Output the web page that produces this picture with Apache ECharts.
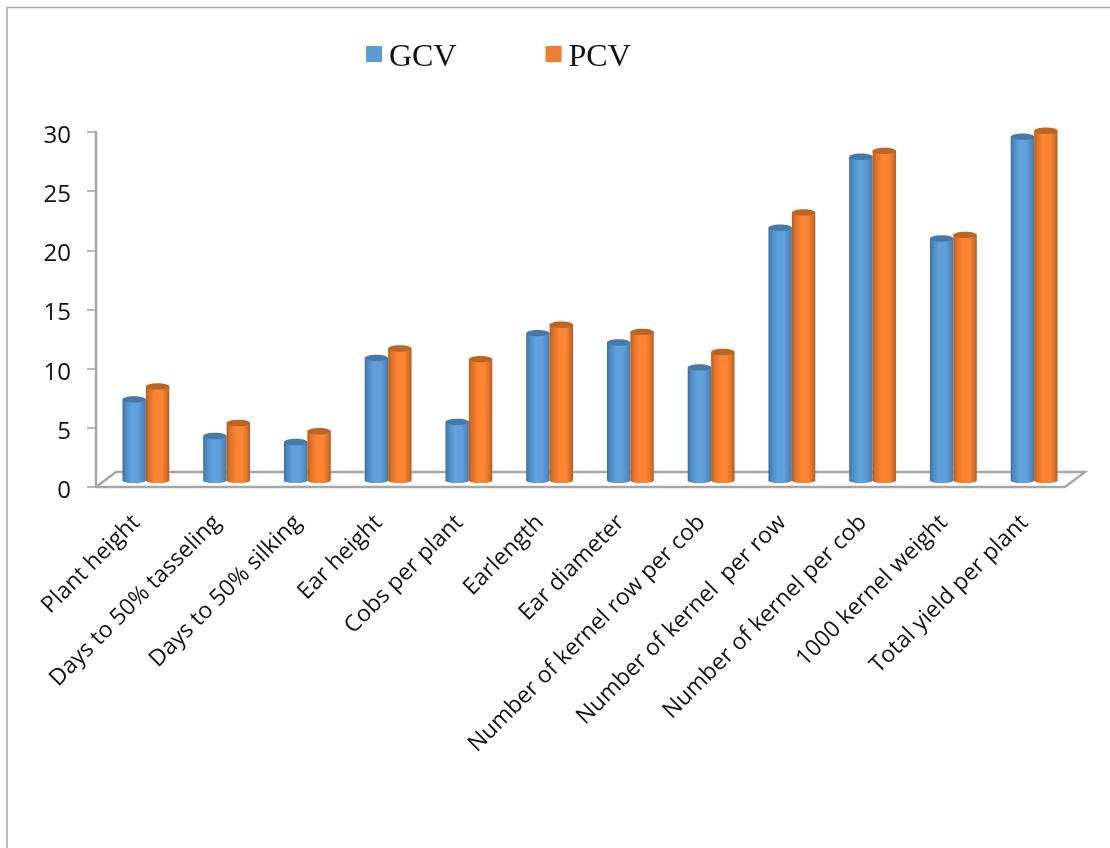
<!DOCTYPE html>
<html>
<head>
<meta charset="utf-8">
<style>html,body{margin:0;padding:0;background:#fff}#chart{width:1110px;height:848px}</style>
<script src="https://cdn.jsdelivr.net/npm/echarts@6/dist/echarts.min.js"></script>
</head>
<body>
<div id="chart"></div>
<script>
const traits = ['Plant height','Days to 50% tasseling','Days to 50% silking','Ear height','Cobs per plant','Earlength','Ear diameter','Number of kernel row per cob','Number of kernel  per row','Number of kernel per cob','1000 kernel weight','Total yield per plant'];
const gcv = [6.9,3.8,3.3,10.4,5.0,12.5,11.7,9.6,21.4,27.4,20.5,29.1];
const pcv = [8.0,4.9,4.2,11.2,10.3,13.2,12.6,10.9,22.7,27.9,20.8,29.6];

const AXIS_GREY = '#a6a6a6';
// pseudo-3D offsets: columns stand in the middle of the floor's depth
const SHIFT_X = 9.5, SHIFT_Y = -6, FLOOR_DX = 20, FLOOR_DY = -15;

function shade(stops) {
  return { type: 'linear', x: 0, y: 0, x2: 1, y2: 0,
    colorStops: stops.map(s => ({ offset: s[0], color: s[1] })) };
}
const blueBody = shade([[0,'#3f6f9c'],[0.14,'#4f8ac1'],[0.4,'#5fa2df'],[0.68,'#5f9fdb'],[0.9,'#5288bc'],[1,'#4a7aa6']]);
const orangeBody = shade([[0,'#b0601f'],[0.14,'#dd7228'],[0.4,'#fd8432'],[0.68,'#fd8432'],[0.88,'#d9702a'],[1,'#ae6025']]);

function cylinder(side, body, cap) {
  return function (params, api) {
    const cat = api.value(0), val = api.value(1);
    const bandW = api.size([1, 0])[0];
    const w = bandW * 0.29, rx = w / 2, ry = 3.2;
    const top = api.coord([cat, val]);
    const base = api.coord([cat, 0]);
    const cx = top[0] + SHIFT_X + side * rx;
    const yt = top[1] + SHIFT_Y, yb = base[1] + SHIFT_Y;
    return { type: 'group', children: [
      { type: 'ellipse', shape: { cx: cx, cy: yb - 0.5, rx: rx, ry: 2.6 }, style: { fill: body } },
      { type: 'rect', shape: { x: cx - rx, y: yt, width: w, height: yb - yt - 0.5 }, style: { fill: body } },
      { type: 'ellipse', shape: { cx: cx, cy: yt, rx: rx, ry: ry }, style: { fill: cap } }
    ] };
  };
}

// floor of the plot: back edge, right edge and the left corner
function renderFloor(params, api) {
  const r = params.coordSys;
  const x0 = r.x, x1 = r.x + r.width, y = r.y + r.height;
  const style = { stroke: AXIS_GREY, lineWidth: 2.4, fill: 'none' };
  return { type: 'polyline', silent: true, shape: { points: [
    [x0, y], [x0 + FLOOR_DX, y + FLOOR_DY], [x1 + FLOOR_DX, y + FLOOR_DY], [x1, y]
  ] }, style: style };
}

const chart = echarts.init(document.getElementById('chart'), null, { renderer: 'canvas' });
chart.setOption({
  animation: false,
  backgroundColor: '#ffffff',
  graphic: [
    { type: 'polyline', silent: true, z: 0,
      shape: { points: [[7, 848], [7, 7.5], [1110, 7.5]] },
      style: { stroke: '#aaaaaa', lineWidth: 1.6, fill: 'none' } }
  ],
  legend: {
    left: 361, top: 37, itemWidth: 16, itemHeight: 16, itemGap: 89, icon: 'rect',
    data: ['GCV', 'PCV'],
    formatter: '{n|{name}}',
    textStyle: { padding: [0, 0, 0, 2], rich: { n: { fontFamily: '"Liberation Serif"', fontSize: 32, color: '#111', lineHeight: 40, verticalAlign: 'bottom' } } }
  },
  grid: { left: 96, right: 45, top: 132, bottom: 361, containLabel: false },
  xAxis: {
    type: 'category', data: traits, boundaryGap: true,
    axisLine: { lineStyle: { color: AXIS_GREY, width: 2.4 } },
    axisTick: { alignWithLabel: false, length: 7, lineStyle: { color: AXIS_GREY, width: 1.6 } },
    axisLabel: { interval: 0, rotate: 45, margin: 32, fontFamily: '"Open Sans"', fontSize: 23, color: '#111' }
  },
  yAxis: {
    type: 'value', min: 0, max: 30, interval: 5, splitLine: { show: false },
    axisLine: { show: true, lineStyle: { color: AXIS_GREY, width: 2.4 } },
    axisTick: { show: true, length: 9, lineStyle: { color: AXIS_GREY, width: 1.6 } },
    axisLabel: { margin: 25, formatter: '{v|{value}}',
      rich: { v: { fontFamily: '"Open Sans"', fontSize: 24, color: '#111', lineHeight: 32, verticalAlign: 'bottom' } } }
  },
  series: [
    { type: 'custom', name: 'floor', renderItem: renderFloor, data: [[0, 0]], silent: true, z: 1,
      encode: { x: 0, y: 1 } },
    { type: 'custom', name: 'GCV', z: 2, renderItem: cylinder(-1, blueBody, '#4679a6'),
      itemStyle: { color: '#5b9bd5' }, encode: { x: 0, y: 1 },
      data: gcv.map((v, i) => [i, v]) },
    { type: 'custom', name: 'PCV', z: 3, renderItem: cylinder(1, orangeBody, '#bb6525'),
      itemStyle: { color: '#ed7d31' }, encode: { x: 0, y: 1 },
      data: pcv.map((v, i) => [i, v]) }
  ]
});
</script>
</body>
</html>
